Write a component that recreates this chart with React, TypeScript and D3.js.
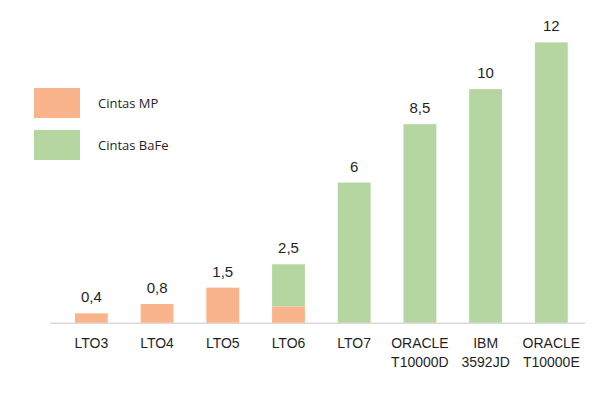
import { useEffect, useRef } from 'react';
import * as d3 from 'd3';

// Capacidad (TB) por generación de cinta
const categories = ['LTO3', 'LTO4', 'LTO5', 'LTO6', 'LTO7', 'ORACLE\nT10000D', 'IBM\n3592JD', 'ORACLE\nT10000E'];
const mpValues = [0.4, 0.8, 1.5, 0.7, 0, 0, 0, 0];
const bafeValues = [0, 0, 0, 1.8, 6, 8.5, 10, 12];
const seriesNames = ['Cintas MP', 'Cintas BaFe'];
const seriesColors = ['#F9B48C', '#B5D6A1'];

const App = () => {
  const svgRef = useRef<SVGSVGElement | null>(null);

  useEffect(() => {
    const width = 605;
    const height = 396;
    const baseline = 322.7;

    const svg = d3.select(svgRef.current);
    svg.selectAll('*').remove();
    svg.attr('width', width).attr('height', height);

    const rows = categories.map((c, i) => ({ cat: c, mp: mpValues[i], bafe: bafeValues[i] }));

    const x = d3.scaleBand<string>()
      .domain(categories)
      .range([58.5, 584.2])
      .paddingInner(0.5)
      .paddingOuter(0.25);

    // 12 -> top at ~42px
    const y = d3.scaleLinear().domain([0, 12]).range([baseline, 42.4]);

    const stacked = d3.stack<any>().keys(['mp', 'bafe'])(rows);

    // axis line
    svg.append('line')
      .attr('x1', 50).attr('x2', 585)
      .attr('y1', baseline + 0.5).attr('y2', baseline + 0.5)
      .attr('stroke', '#d9d9d9')
      .attr('stroke-width', 1.5);

    stacked.forEach((layer, li) => {
      svg.append('g')
        .selectAll('rect')
        .data(layer)
        .enter()
        .append('rect')
        .attr('x', d => x(d.data.cat)!)
        .attr('width', x.bandwidth())
        .attr('y', d => y(d[1]))
        .attr('height', d => Math.max(0, y(d[0]) - y(d[1])))
        .attr('fill', seriesColors[li]);
    });

    // value labels
    svg.append('g')
      .selectAll('text')
      .data(rows)
      .enter()
      .append('text')
      .attr('x', d => x(d.cat)! + x.bandwidth() / 2)
      .attr('y', d => y(d.mp + d.bafe) - 11)
      .attr('text-anchor', 'middle')
      .style('font-family', '"Liberation Sans", Arial, sans-serif')
      .style('font-size', '15px')
      .style('fill', '#1f1f1f')
      .text(d => String(+(d.mp + d.bafe).toFixed(1)).replace('.', ','));

    // category labels
    const catG = svg.append('g');
    categories.forEach(c => {
      const t = catG.append('text')
        .attr('x', x(c)! + x.bandwidth() / 2)
        .attr('y', 348)
        .attr('text-anchor', 'middle')
        .style('font-family', '"Liberation Sans", Arial, sans-serif')
        .style('font-size', '14px')
        .style('fill', '#1f1f1f');
      c.split('\n').forEach((line, i) => {
        t.append('tspan')
          .attr('x', x(c)! + x.bandwidth() / 2)
          .attr('dy', i === 0 ? 0 : 18.5)
          .text(line);
      });
    });

    // legend
    const legend = svg.append('g').attr('transform', 'translate(34, 88)');
    seriesNames.forEach((name, i) => {
      const row = legend.append('g').attr('transform', `translate(0, ${i * 42})`);
      row.append('rect')
        .attr('width', 46)
        .attr('height', 30)
        .attr('fill', seriesColors[i]);
      row.append('text')
        .attr('x', 64)
        .attr('y', 20)
        .style('font-family', '"Open Sans", sans-serif')
        .style('font-size', '13px')
        .style('fill', '#1f1f1f')
        .text(name);
    });
  }, []);

  return <svg ref={svgRef} style={{ position: 'absolute', left: 0, top: 0 }}></svg>;
};

export default App;
